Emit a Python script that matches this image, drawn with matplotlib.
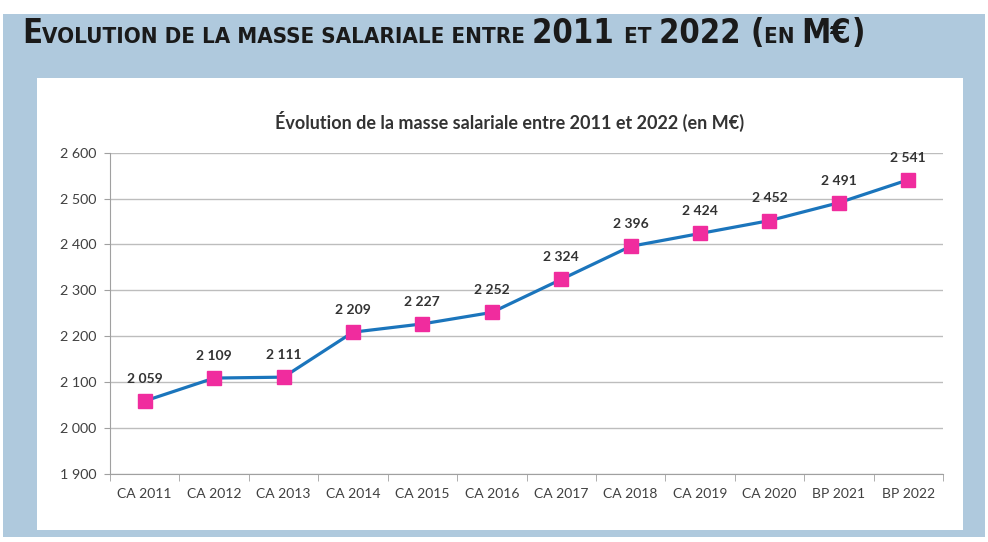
import matplotlib
matplotlib.use("Agg")
import matplotlib.pyplot as plt
import matplotlib.ticker as mticker
from matplotlib.patches import Rectangle

# data
categories = ["CA 2011", "CA 2012", "CA 2013", "CA 2014", "CA 2015", "CA 2016",
              "CA 2017", "CA 2018", "CA 2019", "CA 2020", "BP 2021", "BP 2022"]
masse = [2059, 2109, 2111, 2209, 2227, 2252, 2324, 2396, 2424, 2452, 2491, 2541]
yticks = [1900, 2000, 2100, 2200, 2300, 2400, 2500, 2600]

bg_blue = "#AFC9DD"
line_blue = "#1B75BC"
pink = "#F02C9E"
W, H = 988, 542

plt.rcParams['font.family'] = ['Lato', 'DejaVu Sans']
fig = plt.figure(figsize=(W / 100, H / 100), dpi=100)
fig.patch.set_facecolor("white")

# blue frame + white panel
fig.patches.append(Rectangle((3 / W, 1 - 537 / H), 982 / W, 523 / H, transform=fig.transFigure,
                             facecolor=bg_blue, edgecolor="none", zorder=-2))
fig.patches.append(Rectangle((37 / W, 1 - 530 / H), 926 / W, 452 / H, transform=fig.transFigure,
                             facecolor="white", edgecolor="none", zorder=-1))

# outer title in small caps, built piece by piece
pieces = [("E", 23.5), ("VOLUTION DE LA MASSE SALARIALE ENTRE ", 16), ("2011 ", 23.5), ("ET ", 16),
          ("2022 ", 23.5), ("(", 23.5), ("EN ", 16), ("M€", 23.5), (")", 23.5)]
renderer = fig.canvas.get_renderer()
x = 22 / W
for txt, size in pieces:
    t = fig.text(x, 1 - 43 / H, txt, fontsize=size, fontweight="bold", color="#1a1a1a",
                 family=['DejaVu Sans'], fontstretch="condensed", va="baseline", ha="left")
    bb = t.get_window_extent(renderer=renderer)
    x += bb.width / W

ax = fig.add_axes([110 / W, 1 - 474 / H, 833 / W, (474 - 152.7) / H])
ax.set_zorder(2)
ax.patch.set_alpha(0)
xs = range(len(categories))
ax.plot(xs, masse, color=line_blue, lw=2.3, marker="s", markersize=9.5,
        markerfacecolor=pink, markeredgecolor=pink, zorder=3, clip_on=False)
for i, v in zip(xs, masse):
    ax.annotate(f"{v:,}".replace(",", " "), (i, v), xytext=(0, 16), textcoords="offset points",
                ha="center", va="center", fontsize=10, fontweight="bold", color="#333333")

ax.set_xlim(-0.5, len(categories) - 0.5)
ax.set_ylim(1900, 2600)
ax.set_yticks(yticks)
ax.yaxis.set_major_formatter(mticker.FuncFormatter(lambda v, p: f"{int(v):,}".replace(",", " ")))
ax.set_xticks(xs)
ax.set_xticklabels(categories)
ax.set_xticks([i - 0.5 for i in range(len(categories) + 1)], minor=True)
ax.tick_params(axis="x", which="major", length=0, pad=10, labelsize=10, labelcolor="#404040")
ax.tick_params(axis="x", which="minor", length=5, color="#A0A0A0")
ax.tick_params(axis="y", length=4, color="#A0A0A0", labelsize=10.3, labelcolor="#404040", pad=6)
ax.grid(axis="y", color="#BDBDBD", lw=1)
ax.set_axisbelow(True)
for s in ["top", "right"]:
    ax.spines[s].set_visible(False)
ax.spines["left"].set_color("#A0A0A0")
ax.spines["bottom"].set_color("#A0A0A0")

fig.text(510 / W, 1 - 121 / H, "Évolution de la masse salariale entre 2011 et 2022 (en M€)",
         ha="center", va="center", fontsize=13, fontweight="bold", color="#333333")

fig.savefig("out.png", dpi=100, facecolor=fig.get_facecolor())
